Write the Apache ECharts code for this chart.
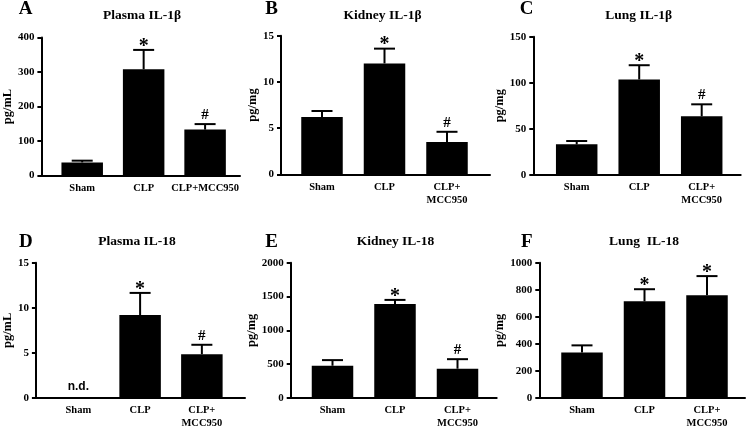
<!DOCTYPE html>
<html><head><meta charset="utf-8">
<script src="https://cdn.jsdelivr.net/npm/echarts@6/dist/echarts.min.js"></script>
<style>html,body{margin:0;padding:0;background:#fff}#c{width:750px;height:430px}</style>
</head><body><div id="c"></div>
<script>
// ---------- data ----------
const categories = ['Sham', 'CLP', 'CLP+MCC950'];
const categoryLabelsWrapped = ['Sham', 'CLP', 'CLP+\nMCC950'];

const plasmaIL1bMean = [38, 308, 133];
const plasmaIL1bSem = [5, 56, 16];
const plasmaIL1bMarks = ['', '*', '#'];

const kidneyIL1bMean = [6.2, 12.0, 3.5];
const kidneyIL1bSem = [0.65, 1.6, 1.1];
const kidneyIL1bMarks = ['', '*', '#'];

const lungIL1bMean = [33, 103.5, 63.5];
const lungIL1bSem = [3.6, 15.5, 13];
const lungIL1bMarks = ['', '*', '#'];

const plasmaIL18Mean = [null, 9.2, 4.85];   // Sham not detected
const plasmaIL18Sem = [0, 2.45, 1.05];
const plasmaIL18Marks = ['n.d.', '*', '#'];

const kidneyIL18Mean = [477, 1390, 433];
const kidneyIL18Sem = [83, 60, 141];
const kidneyIL18Marks = ['', '*', '#'];

const lungIL18Mean = [336, 715, 759];
const lungIL18Sem = [53, 89, 142];
const lungIL18Marks = ['', '*', '*'];

const yTicksA = [0, 100, 200, 300, 400];
const yTicksB = [0, 5, 10, 15];
const yTicksC = [0, 50, 100, 150];
const yTicksD = [0, 5, 10, 15];
const yTicksE = [0, 500, 1000, 1500, 2000];
const yTicksF = [0, 200, 400, 600, 800, 1000];

// ---------- panels ----------
const panels = [
  {letter: 'A', title: 'Plasma IL-1β', unit: 'pg/mL', mean: plasmaIL1bMean, sem: plasmaIL1bSem, marks: plasmaIL1bMarks, ticks: yTicksA, labels: categories},
  {letter: 'B', title: 'Kidney IL-1β', unit: 'pg/mg', mean: kidneyIL1bMean, sem: kidneyIL1bSem, marks: kidneyIL1bMarks, ticks: yTicksB, labels: categoryLabelsWrapped},
  {letter: 'C', title: 'Lung IL-1β', unit: 'pg/mg', mean: lungIL1bMean, sem: lungIL1bSem, marks: lungIL1bMarks, ticks: yTicksC, labels: categoryLabelsWrapped},
  {letter: 'D', title: 'Plasma IL-18', unit: 'pg/mL', mean: plasmaIL18Mean, sem: plasmaIL18Sem, marks: plasmaIL18Marks, ticks: yTicksD, labels: categoryLabelsWrapped},
  {letter: 'E', title: 'Kidney IL-18', unit: 'pg/mg', mean: kidneyIL18Mean, sem: kidneyIL18Sem, marks: kidneyIL18Marks, ticks: yTicksE, labels: categoryLabelsWrapped},
  {letter: 'F', title: 'Lung  IL-18', unit: 'pg/mg', mean: lungIL18Mean, sem: lungIL18Sem, marks: lungIL18Marks, ticks: yTicksF, labels: categoryLabelsWrapped}
];

// layout (pixels): y-axis x, x-axis end, top tick y, zero y, first-centre offset, spacing, name gap, title centre, letter centre
const layout = [
  {ax: 38,    xEnd: 240,   yTop: 37.5,  y0: 175.5, off: 41.5, sp: 62.5, nameGap: 24, tx: 142,   lx: 25.5,  ty: 9,     ly: 0},
  {ax: 281,   xEnd: 490,   yTop: 35.7,  y0: 174.3, off: 41,   sp: 62.5, nameGap: 18, tx: 382.5, lx: 271.7, ty: 9,     ly: 0},
  {ax: 533.3, xEnd: 740.7, yTop: 36.7,  y0: 174.7, off: 43.4, sp: 62.5, nameGap: 23, tx: 638.7, lx: 526.7, ty: 9,     ly: 0},
  {ax: 31.7,  xEnd: 245,   yTop: 262.7, y0: 401.7, off: 43.3, sp: 63,   nameGap: 17, tx: 137,   lx: 25.8,  ty: 234.7, ly: 232.5},
  {ax: 290.7, xEnd: 496.7, yTop: 262.7, y0: 400.5, off: 41.8, sp: 62.5, nameGap: 27, tx: 395.5, lx: 271.7, ty: 234.7, ly: 232.5},
  {ax: 539.3, xEnd: 745,   yTop: 262.7, y0: 400.7, off: 42.7, sp: 62.5, nameGap: 29, tx: 644,   lx: 526.7, ty: 234.7, ly: 232.5}
];

const SERIF = '"Liberation Serif", "Times New Roman", serif';
const W = 750, H = 430;

const grids = [], xAxes = [], yAxes = [], series = [], titles = [];

panels.forEach((p, k) => {
  const L = layout[k];
  grids.push({left: L.ax, right: W - L.xEnd, top: L.yTop, bottom: H - L.y0, containLabel: false});
  const xmin = 1 - L.off / L.sp;
  const xmax = xmin + (L.xEnd - L.ax) / L.sp;
  const labels = p.labels;
  xAxes.push({
    type: 'value', gridIndex: k, min: xmin, max: xmax,
    axisLine: {show: true, onZero: false, lineStyle: {color: '#000', width: 2}},
    axisTick: {show: false},
    splitLine: {show: false},
    axisLabel: {
      customValues: [1, 2, 3],
      formatter: v => labels[Math.round(v) - 1] || '',
      color: '#000', fontFamily: SERIF, fontWeight: 'bold', fontSize: 10.5,
      lineHeight: 13, margin: 6, showMinLabel: true, showMaxLabel: true
    }
  });
  const tks = p.ticks;
  yAxes.push({
    type: 'value', gridIndex: k, min: tks[0], max: tks[tks.length - 1], interval: tks[1] - tks[0],
    name: p.unit, nameLocation: 'middle', nameGap: L.nameGap,
    nameTextStyle: {color: '#000', fontFamily: SERIF, fontWeight: 'bold', fontSize: 12.5},
    axisLine: {show: true, lineStyle: {color: '#000', width: 2}},
    axisTick: {show: true, length: 4, lineStyle: {color: '#000', width: 2}},
    splitLine: {show: false},
    axisLabel: {color: '#000', fontFamily: SERIF, fontWeight: 'bold', fontSize: 11, margin: 7,
      formatter: v => String(v)}
  });
  series.push({
    type: 'bar', xAxisIndex: k, yAxisIndex: k, barWidth: 41.5,
    itemStyle: {color: '#000'},
    data: p.mean.map((m, i) => m == null ? null : [i + 1, m]).filter(d => d),
    animation: false
  });
  const means = p.mean, sems = p.sem, marks = p.marks;
  series.push({
    type: 'custom', xAxisIndex: k, yAxisIndex: k, animation: false, silent: true,
    data: means.map((m, i) => [i + 1, m == null ? 0 : m, sems[i] || 0]),
    renderItem: (params, api) => {
      const i = params.dataIndex;
      const x = api.value(0), m = api.value(1), e = api.value(2);
      const top = api.coord([x, m]);
      const cap = api.coord([x, m + e]);
      const ch = [];
      if (e > 0) {
        ch.push({type: 'line', shape: {x1: top[0], y1: top[1], x2: cap[0], y2: cap[1]}, style: {stroke: '#000', lineWidth: 2}});
        ch.push({type: 'line', shape: {x1: cap[0] - 10.5, y1: cap[1], x2: cap[0] + 10.5, y2: cap[1]}, style: {stroke: '#000', lineWidth: 2}});
      }
      const mk = marks[i];
      if (mk === '*') {
        ch.push({type: 'text', x: cap[0], y: cap[1] - 3.5, style: {text: '*', fill: '#000', font: 'bold 20px ' + SERIF, align: 'center', verticalAlign: 'middle'}});
      } else if (mk === '#') {
        ch.push({type: 'text', x: cap[0], y: cap[1] - 9, style: {text: '#', fill: '#000', font: 'bold 15px ' + SERIF, align: 'center', verticalAlign: 'middle'}});
      } else if (mk === 'n.d.') {
        ch.push({type: 'text', x: top[0], y: top[1] - 11.5, style: {text: 'n.d.', fill: '#000', font: 'bold 12px "Liberation Sans", Arial, sans-serif', align: 'center', verticalAlign: 'middle'}});
      }
      return {type: 'group', children: ch};
    }
  });
  titles.push({text: p.letter, left: L.lx, top: L.ly, textAlign: 'center', padding: 0,
    textStyle: {color: '#000', fontFamily: SERIF, fontWeight: 'bold', fontSize: 19}});
  titles.push({text: p.title, left: L.tx, top: L.ty, textAlign: 'center', padding: 0,
    textStyle: {color: '#000', fontFamily: SERIF, fontWeight: 'bold', fontSize: 13.5}});
});

const chart = echarts.init(document.getElementById('c'), null, {renderer: 'canvas'});
chart.setOption({
  backgroundColor: '#fff',
  animation: false,
  title: titles,
  grid: grids,
  xAxis: xAxes,
  yAxis: yAxes,
  series: series
});
</script>
</body></html>
